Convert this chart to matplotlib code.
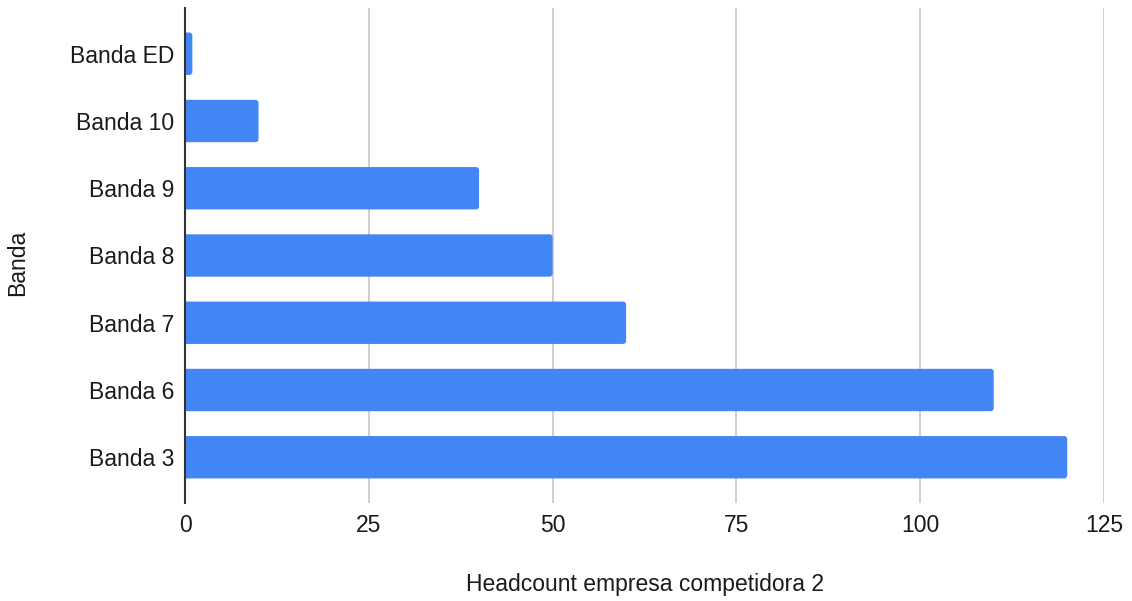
import matplotlib
matplotlib.use("Agg")
import matplotlib.pyplot as plt
from matplotlib.patches import FancyBboxPatch

categories = ["Banda ED", "Banda 10", "Banda 9", "Banda 8", "Banda 7", "Banda 6", "Banda 3"]
headcount = [1, 10, 40, 50, 60, 110, 120]
x_ticks = [0, 25, 50, 75, 100, 125]

plt.rcParams["font.family"] = ["Liberation Sans", "DejaVu Sans"]

W, H = 1132, 601
fig = plt.figure(figsize=(W / 100, H / 100), dpi=100)
left, right, bottom, top = 185 / W, 1104 / W, (H - 503) / H, (H - 8) / H
ax = fig.add_axes([left, bottom, right - left, top - bottom])

bar_color = "#4285F4"
bar_h = 0.63
n = len(categories)
ypos = list(range(n))[::-1]  # first category on top

ax.set_xlim(0, 125)
ax.set_ylim(-0.68, n - 1 + 0.68)

# pixel scale of each data unit, used for the rounded bar ends
px_x = (right - left) * W / 125
px_y = (top - bottom) * H / (n - 1 + 1.36)
radius_px = 3.0
r = radius_px / px_x
aspect = px_x / px_y

for y, v in zip(ypos, headcount):
    patch = FancyBboxPatch((-1.0, y - bar_h / 2), v + 1.0, bar_h,
                           boxstyle=f"round,pad=0,rounding_size={r}",
                           mutation_aspect=aspect,
                           facecolor=bar_color, edgecolor="none", zorder=3)
    ax.add_patch(patch)

ax.set_yticks(ypos)
ax.set_yticklabels(categories)
ax.set_xticks(x_ticks)
ax.set_xticklabels([str(t) for t in x_ticks])

ax.grid(axis="x", color="#cccccc", linewidth=1.3, zorder=0)
ax.set_axisbelow(True)
for s in ["top", "right", "bottom"]:
    ax.spines[s].set_visible(False)
ax.spines["left"].set_color("#333333")
ax.spines["left"].set_linewidth(1.5)
ax.spines["left"].set_zorder(4)

ax.tick_params(axis="both", length=0, labelsize=16.5, colors="#1a1a1a")
ax.tick_params(axis="x", pad=8)
ax.tick_params(axis="y", pad=8)

fig.text((left + right) / 2, 1 - 584 / H, "Headcount empresa competidora 2",
         ha="center", va="center", fontsize=16.5, color="#1a1a1a")
fig.text(18 / W, 1 - 263 / H, "Banda", rotation=90,
         ha="center", va="center", fontsize=16.5, color="#1a1a1a")

fig.savefig("out.png", dpi=100, facecolor="white")
